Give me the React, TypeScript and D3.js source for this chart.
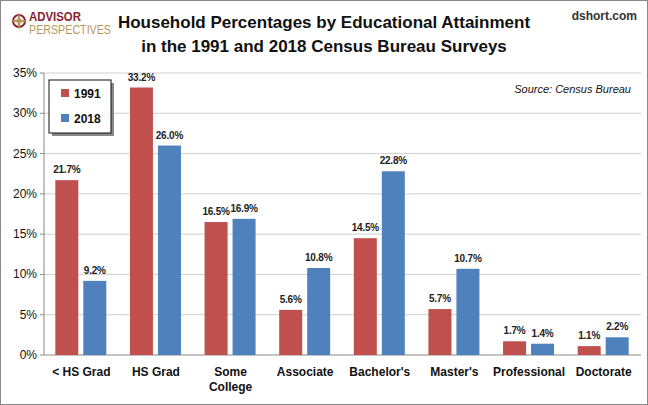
import React from "react";
import * as d3 from "d3";

const categories = ["< HS Grad", "HS Grad", "Some College", "Associate", "Bachelor's", "Master's", "Professional", "Doctorate"];
const catLines = [["< HS Grad"], ["HS Grad"], ["Some", "College"], ["Associate"], ["Bachelor's"], ["Master's"], ["Professional"], ["Doctorate"]];
const series1991 = [21.7, 33.2, 16.5, 5.6, 14.5, 5.7, 1.7, 1.1];
const series2018 = [9.2, 26.0, 16.9, 10.8, 22.8, 10.7, 1.4, 2.2];
const yTicks = [0, 5, 10, 15, 20, 25, 30, 35];
const seriesNames = ["1991", "2018"];
const colors = ["#C0504D", "#4F81BD"];

export default function App() {
  const W = 648, H = 405;
  const left = 44, right = 641, top = 73, bottom = 355;
  const x = d3.scaleBand().domain(categories).range([left, right]);
  const y = d3.scaleLinear().domain([0, 35]).range([bottom, top]);
  const bw = 23;
  const font = "'Liberation Sans', Arial, sans-serif";
  const data = [series1991, series2018];
  return (
    <svg width={W} height={H} style={{ position: "absolute", left: 0, top: 0 }} fontFamily={font}>
      <rect x={0.5} y={0.5} width={W - 1} height={H - 1} fill="#fff" stroke="#888" />
      <text x={324} y={28} textAnchor="middle" fontSize={17} fontWeight="bold" fill="#111">Household Percentages by Educational Attainment</text>
      <text x={324} y={52} textAnchor="middle" fontSize={17} fontWeight="bold" fill="#111">in the 1991 and 2018 Census Bureau Surveys</text>
      <text x={29} y={21} fontSize={12} fontWeight="bold" fill="#8B2231" textLength={52} lengthAdjust="spacingAndGlyphs">ADVISOR</text>
      <text x={29} y={34} fontSize={12} fill="#B8985A" textLength={82} lengthAdjust="spacingAndGlyphs">PERSPECTIVES</text>
      <circle cx={19} cy={21} r={6} fill="none" stroke="#8B2231" strokeWidth={2} />
      <path d="M19 12 L21 21 L19 30 L17 21 Z M10 21 L19 19 L28 21 L19 23 Z" fill="#B8985A" />
      <text x={637} y={20} textAnchor="end" fontSize={12} fontWeight="bold" fill="#333">dshort.com</text>
      {yTicks.map(t => (
        <g key={t}>
          <line x1={left} x2={right} y1={y(t)} y2={y(t)} stroke={t === 0 ? "#888" : "#d0d0d0"} />
          <line x1={left - 4} x2={left} y1={y(t)} y2={y(t)} stroke="#888" />
          <text x={left - 7} y={y(t) + 4} textAnchor="end" fontSize={12} fill="#111">{t}%</text>
        </g>
      ))}
      <line x1={left} x2={left} y1={top} y2={bottom} stroke="#888" />
      {categories.map((c, i) => {
        const cx = x(c)! + x.bandwidth() / 2;
        return (
          <g key={c}>
            {data.map((s, k) => {
              const bx = k === 0 ? cx - bw - 3 : cx + 2;
              return (
                <g key={k}>
                  <rect x={bx} y={y(s[i])} width={bw} height={bottom - y(s[i])} fill={colors[k]} />
                  <text x={bx + bw / 2} y={y(s[i]) - 7} textAnchor="middle" fontSize={10} letterSpacing={-0.2} fontWeight="bold" fill="#222">{s[i].toFixed(1)}%</text>
                </g>
              );
            })}
            {catLines[i].map((l, j) => (
              <text key={j} x={cx} y={376 + j * 15} textAnchor="middle" fontSize={12} fontWeight="bold" fill="#111">{l}</text>
            ))}
          </g>
        );
      })}
      <text x={631} y={93} textAnchor="end" fontSize={11} fontStyle="italic" fill="#111">Source:  Census Bureau</text>
      <rect x={52} y={83} width={62} height={53} fill="#888" />
      <rect x={49} y={80} width={62} height={53} fill="#fff" stroke="#111" />
      {seriesNames.map((n, k) => (
        <g key={n}>
          <rect x={61} y={89 + k * 25} width={8} height={8} fill={colors[k]} />
          <text x={74} y={98 + k * 25} fontSize={12} fontWeight="bold" fill="#111">{n}</text>
        </g>
      ))}
    </svg>
  );
}
